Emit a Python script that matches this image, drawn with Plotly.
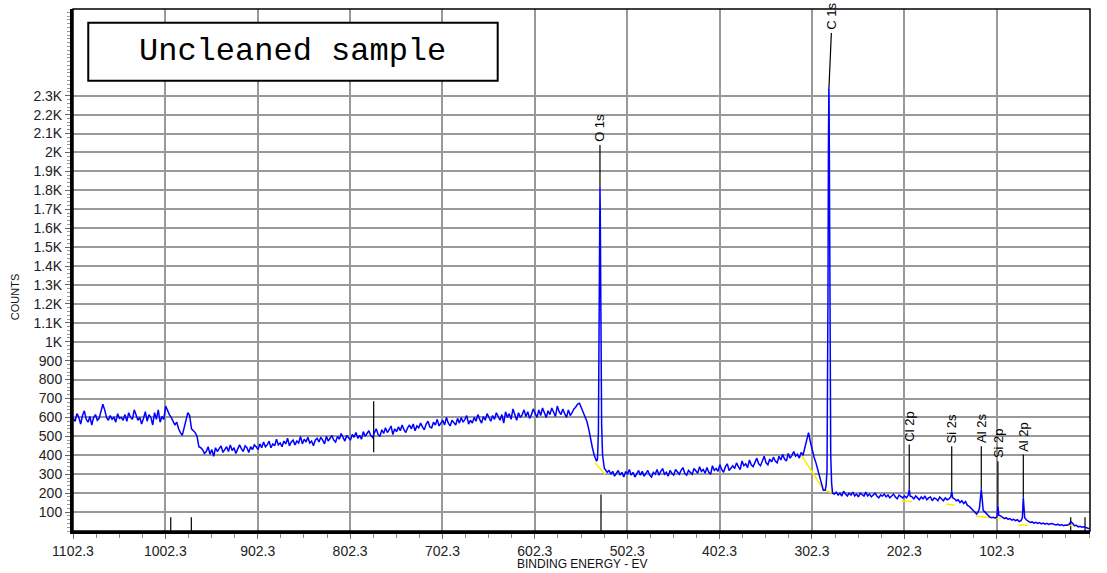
import plotly.graph_objects as go

# ---------------- data ----------------
grid_energy = list(range(1102, 0, -2))  # binding energy grid (eV), 2 eV step
grid_counts = [
    595, 580, 620, 600, 565, 610, 635, 590, 575, 605,
    560, 600, 615, 585, 595, 630, 670, 640, 600, 585,
    610, 590, 600, 575, 620, 595, 600, 585, 615, 580,
    625, 600, 590, 640, 610, 585, 600, 565, 595, 630,
    580, 615, 600, 560, 625, 590, 640, 575, 605, 590,
    660, 635, 615, 600, 580, 560, 575, 540, 520, 505,
    545, 590, 625, 610, 540, 530, 520, 500, 445, 440,
    430, 410, 420, 445, 405, 430, 395, 440, 420, 435,
    450, 415, 430, 445, 420, 455, 425, 440, 410, 430,
    455, 435, 420, 450, 440, 415, 445, 430, 455, 445,
    430, 460, 440, 470, 445, 455, 475, 440, 460, 450,
    485, 455, 465, 445, 475, 460, 490, 450, 470, 480,
    455, 475, 465, 500, 460, 485, 470, 495, 465, 475,
    450, 480, 490, 470, 495, 480, 460, 500, 475, 490,
    505, 480, 470, 500, 485, 515, 490, 475, 505, 495,
    480, 510, 495, 520, 490, 505, 485, 525, 500, 515,
    530, 505, 495, 520, 540, 510, 500, 535, 515, 545,
    520, 535, 555, 510, 540, 525, 550, 530, 560, 535,
    520, 545, 560, 540, 565, 530, 555, 545, 570, 550,
    535, 565, 580, 550, 545, 575, 560, 590, 555, 570,
    585, 560, 600, 570, 555, 585, 575, 560, 595, 570,
    600, 575, 590, 610, 565, 585, 570, 600, 580, 615,
    590, 570, 605, 585, 620, 595, 580, 610, 590, 625,
    600, 585, 615, 570, 630, 600, 620, 590, 645, 610,
    585, 625, 600, 615, 640, 605, 630, 595, 615, 645,
    620, 600, 640, 610, 650, 620, 600, 635, 615, 650,
    625, 605, 660, 630, 615, 645, 620, 600, 640, 610,
    625, 645, 655, 670, 675, 650, 630, 610, 580, 540,
    485, 440, 400, 370, 370, 360, 340, 330, 325, 310,
    320, 300, 315, 290, 305, 320, 295, 310, 285, 315,
    300, 325, 295, 310, 285, 300, 320, 295, 315, 290,
    305, 320, 295, 285, 310, 300, 325, 295, 315, 330,
    300, 310, 290, 320, 305, 295, 325, 310, 300, 320,
    335, 305, 295, 320, 310, 300, 330, 315, 305, 340,
    315, 325, 305, 335, 310, 300, 345, 320, 330, 315,
    350, 325, 310, 340, 355, 320, 335, 345, 330, 360,
    340, 325, 370, 345, 355, 335, 375, 350, 340, 365,
    385, 355, 345, 370, 395, 360, 350, 380, 365, 390,
    370, 360, 395, 375, 405, 380, 370, 410, 385, 400,
    420, 395, 405, 385, 415, 400, 440, 480, 520, 470,
    420, 390, 360, 325, 290, 250, 215, 212, 215, 215,
    205, 200, 195, 205, 190, 200, 185, 210, 195, 185,
    200, 190, 205, 185, 195, 180, 200, 190, 185, 205,
    185, 195, 180, 190, 200, 185, 175, 190, 185, 195,
    180, 190, 175, 185, 195, 180, 170, 190, 180, 175,
    185, 175, 185, 185, 180, 170, 185, 175, 165, 180,
    170, 185, 165, 175, 180, 160, 175, 170, 160, 180,
    170, 160, 175, 165, 170, 170, 170, 170, 160, 165,
    150, 160, 145, 155, 135, 130, 120, 110, 100, 90,
    105, 110, 110, 105, 96, 82, 75, 70, 72, 68,
    72, 72, 80, 70, 65, 70, 62, 66, 58, 62,
    55, 60, 50, 55, 55, 70, 58, 50, 45, 48,
    42, 46, 40, 44, 38, 42, 36, 40, 35, 38,
    40, 34, 32, 36, 30, 34, 28, 32, 30, 35,
    50, 40, 28, 30, 22, 25, 20, 22, 18, 15,
    12,
]

o1s_energy = [535.5, 534.5, 533.5, 533, 532.5, 532, 531.8, 531.5, 531, 530.5, 530, 529, 528, 527]
o1s_counts = [369, 380, 520, 900, 1450, 1750, 1818, 1700, 1300, 850, 560, 400, 345, 330]
c1s_energy = [288, 287, 286, 285.5, 285, 284.5, 284, 283.8, 283.5, 283, 282.5, 282, 281, 280]
c1s_counts = [215, 240, 320, 600, 1200, 2000, 2341, 2300, 2000, 1300, 700, 400, 250, 200]
cl2p_energy = [198, 197, 196]
cl2p_counts = [190, 220, 185]
si2s_energy = [152, 151, 150]
si2s_counts = [180, 210, 175]
al2s_energy = [121, 120, 119, 118, 117]
al2s_counts = [120, 170, 220, 170, 110]
si2p_energy = [102, 101, 100]
si2p_counts = [75, 135, 82]
al2p_energy = [74.5, 73.5, 72.5]
al2p_counts = [70, 176, 75]

# background (yellow) segments: polylines of (energy, counts)
bg_segments = [
    [(537.2, 360), (526.3, 300)],
    [(313.6, 399), (290.0, 220), (281.0, 202)],
    [(205.0, 158), (194.0, 156)],
    [(157.0, 142), (148.0, 138)],
    [(124.8, 79), (110.0, 70)],
    [(104.0, 70), (97.0, 68)],
    [(79.0, 32), (68.0, 30)],
    [(27.0, 30), (14.6, 28)],
]

# peak identification labels
label_names = ["O 1s", "C 1s", "Cl 2p", "Si 2s", "Al 2s", "Si 2p", "Al 2p"]
label_peak_energy = [531.8, 283.9, 197, 151, 119, 101, 73.5]
label_peak_counts = [1818, 2341, 220, 210, 220, 135, 176]
label_text_energy = [531.8, 281.3, 197, 151, 119, 101, 73.5]
label_text_counts = [2040, 2632, 457, 448, 448, 369, 404]

# vertical marker lines (energy, bottom, top)
marker_energy = [996.5, 974.2, 530.7, 776.8, 22.2, 6.7]
marker_bottom = [0, 0, 0, 416, 0, 0]
marker_top = [73, 73, 193, 685, 73, 73]

x_tick_vals = [1102.3, 1002.3, 902.3, 802.3, 702.3, 602.3, 502.3, 402.3, 302.3, 202.3, 102.3]
y_tick_vals = list(range(100, 2400, 100))
y_tick_text = ["100", "200", "300", "400", "500", "600", "700", "800", "900", "1K",
               "1.1K", "1.2K", "1.3K", "1.4K", "1.5K", "1.6K", "1.7K", "1.8K", "1.9K", "2K",
               "2.1K", "2.2K", "2.3K"]

# ---------------- build spectrum ----------------
peaks = [(o1s_energy, o1s_counts), (c1s_energy, c1s_counts), (cl2p_energy, cl2p_counts),
         (si2s_energy, si2s_counts), (al2s_energy, al2s_counts), (si2p_energy, si2p_counts),
         (al2p_energy, al2p_counts)]
windows = [(min(e) - 0.5, max(e) + 0.5) for e, _ in peaks]
pts = [(e, c) for e, c in zip(grid_energy, grid_counts)
       if not any(lo < e < hi for lo, hi in windows)]
for e_list, c_list in peaks:
    pts += list(zip(e_list, c_list))
pts.sort(key=lambda p: -p[0])
spec_x = [p[0] for p in pts]
spec_y = [p[1] for p in pts]

bg_x, bg_y = [], []
for seg in bg_segments:
    bg_x += [p[0] for p in seg] + [None]
    bg_y += [p[1] for p in seg] + [None]

lab_x, lab_y = [], []
for pe, pc, te, tc in zip(label_peak_energy, label_peak_counts, label_text_energy, label_text_counts):
    lab_x += [pe, te, None]
    lab_y += [pc, tc, None]

mk_x, mk_y = [], []
for e, b, t in zip(marker_energy, marker_bottom, marker_top):
    mk_x += [e, e, None]
    mk_y += [b, t, None]

fig = go.Figure()
fig.add_trace(go.Scatter(x=mk_x, y=mk_y, mode="lines", line=dict(color="black", width=1.2),
                         hoverinfo="skip", showlegend=False))
fig.add_trace(go.Scatter(x=bg_x, y=bg_y, mode="lines", line=dict(color="#ffee00", width=1.5),
                         hoverinfo="skip", showlegend=False))
fig.add_trace(go.Scatter(x=lab_x, y=lab_y, mode="lines", line=dict(color="black", width=1.2),
                         hoverinfo="skip", showlegend=False))
fig.add_trace(go.Scatter(x=spec_x, y=spec_y, mode="lines", line=dict(color="#0000ff", width=1.5),
                         showlegend=False))

for name, te, tc in zip(label_names, label_text_energy, label_text_counts):
    fig.add_annotation(x=te, y=tc, text=name, showarrow=False, textangle=-90,
                       xanchor="center", yanchor="bottom", yshift=1,
                       font=dict(family="Liberation Sans, Arial", size=13, color="black"))

# title box
fig.add_shape(type="rect", xref="paper", yref="paper", x0=0.0150, x1=0.4176, y0=0.8626, y1=0.9738,
              line=dict(color="black", width=2), fillcolor="white", layer="above")
fig.add_annotation(xref="paper", yref="paper", x=0.2158, y=0.918, text="Uncleaned sample",
                   showarrow=False, xanchor="center", yanchor="middle",
                   font=dict(family="Liberation Mono, Courier New, monospace", size=32, color="black"))
# frame
fig.add_shape(type="rect", xref="paper", yref="paper", x0=0, x1=1, y0=0, y1=1,
              line=dict(color="black", width=1.5), layer="above")

# axis titles
fig.add_annotation(xref="paper", yref="paper", x=0.5, y=-0.064, text="BINDING ENERGY - EV",
                   showarrow=False, xanchor="center", yanchor="middle",
                   font=dict(family="Liberation Sans, Arial", size=12, color="#111"))
fig.add_annotation(xref="paper", yref="paper", x=-0.057, y=0.448, text="COUNTS", textangle=-90,
                   showarrow=False, xanchor="center", yanchor="middle",
                   font=dict(family="Liberation Sans, Arial", size=11, color="#111"))

fig.update_layout(
    width=1107, height=573,
    margin=dict(l=73, r=17, t=9, b=42),
    paper_bgcolor="white", plot_bgcolor="white",
    font=dict(family="Liberation Sans, Arial", size=14, color="#222"),
    showlegend=False,
)
fig.update_xaxes(
    range=[1102.3, 1.3], tickmode="array", tickvals=x_tick_vals,
    ticktext=[f"{v:.1f}" for v in x_tick_vals],
    showgrid=True, gridcolor="#999999", gridwidth=1.5,
    showline=True, linecolor="black", linewidth=3,
    ticks="outside", ticklen=5, tickcolor="#666", tickwidth=1,
    minor=dict(tickmode="linear", tick0=2.3, dtick=25, ticks="outside", ticklen=4,
               tickcolor="#888", showgrid=False),
    zeroline=False, tickfont=dict(size=14, color="#222"),
)
fig.update_yaxes(
    range=[0, 2758], tickmode="array", tickvals=y_tick_vals, ticktext=y_tick_text,
    showgrid=True, gridcolor="#999999", gridwidth=1.5,
    showline=True, linecolor="black", linewidth=3,
    ticks="outside", ticklen=5, tickcolor="#666", tickwidth=1,
    minor=dict(tickmode="linear", tick0=0, dtick=20, ticks="outside", ticklen=3,
               tickcolor="#999", showgrid=False),
    zeroline=False, tickfont=dict(size=14, color="#222"),
)

# remove the browser's default 8px page margin so the figure fills the window exactly
fig.write_html("out.html", config={"displayModeBar": False},
               post_script="document.body.style.margin='0';document.body.style.overflow='hidden';")
